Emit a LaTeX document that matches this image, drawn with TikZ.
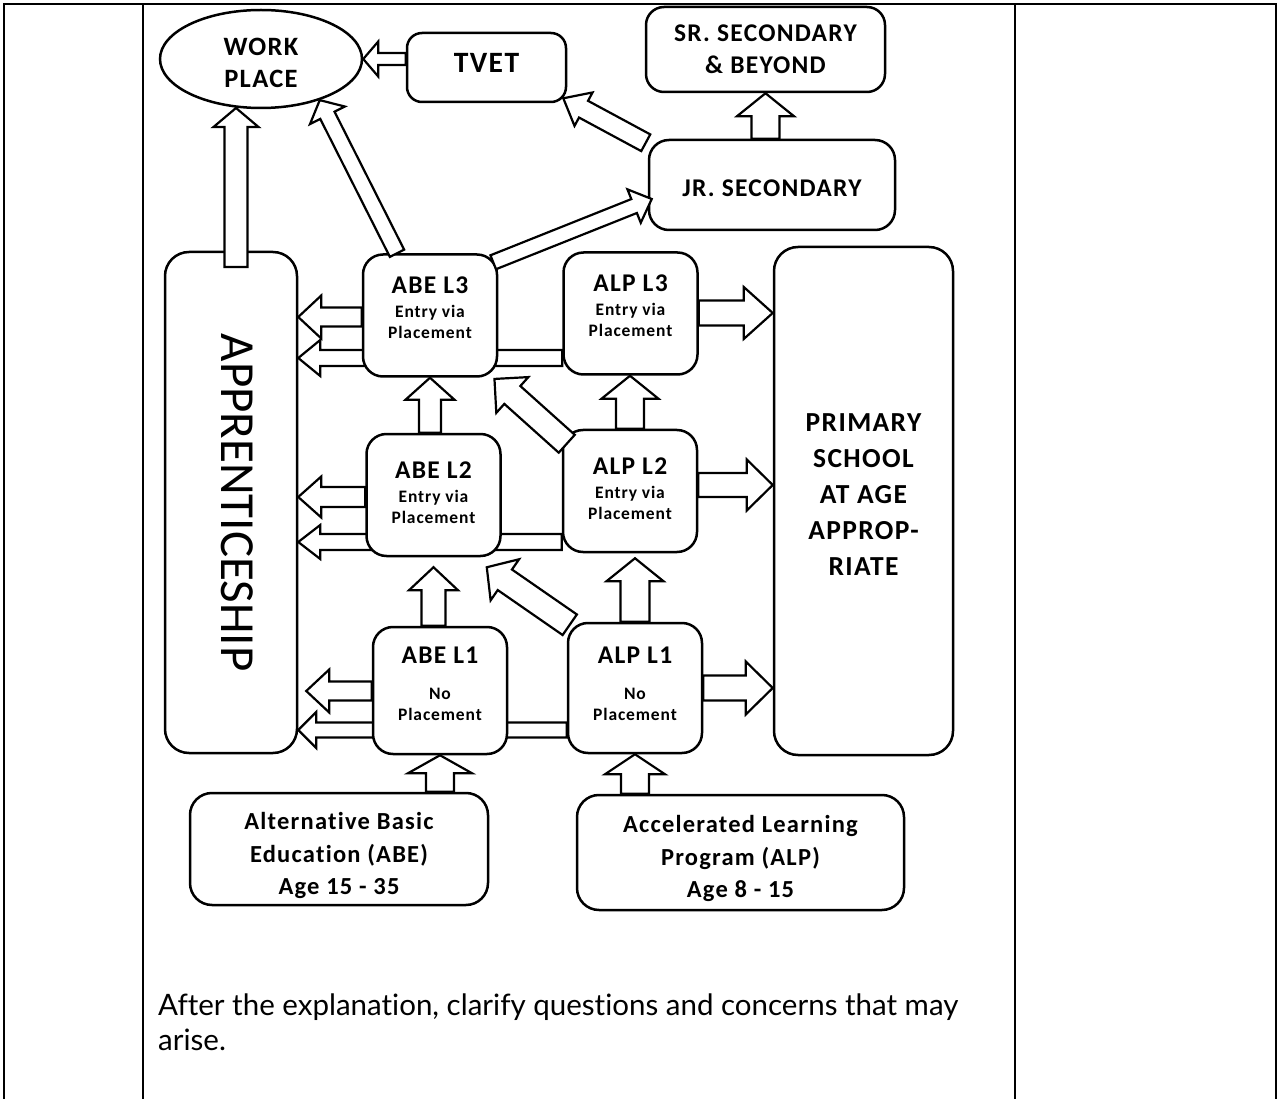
\documentclass[tikz,border=0pt]{standalone}
\usepackage{fontspec}
\setmainfont{Carlito}
\newfontfamily\boxfont{Carlito}[LetterSpace=5, Ligatures=NoCommon]
\newfontfamily\notefont{Lato}[Ligatures=NoCommon]
\usetikzlibrary{calc,positioning,backgrounds,shapes.geometric}

% block arrow from #2 to #3: half shaft #4, half head #5, head length #6
\newcommand{\blockarrow}[6][]{%
  \path let \p1=#2, \p2=#3 in
    \pgfextra{\pgfmathsetmacro\tmpang{atan2(\y2-\y1,\x2-\x1)}%
              \pgfmathsetmacro\tmplen{veclen(\x2-\x1,\y2-\y1)}%
              \global\let\barang\tmpang\global\let\barlen\tmplen};
  \draw[blockarr,#1,shift={#2},rotate=\barang]
    (0pt,#4pt) -- ({\barlen pt-#6pt},#4pt) -- ({\barlen pt-#6pt},#5pt)
    -- (\barlen pt,0pt) -- ({\barlen pt-#6pt},-#5pt) -- ({\barlen pt-#6pt},-#4pt)
    -- (0pt,-#4pt) -- cycle;
}

\begin{document}
\begin{tikzpicture}[x=1pt, y=-1pt,
  tableline/.style={line width=2pt},
  bigbox/.style={draw, line width=2.5pt, rounded corners=24pt, fill=white, inner sep=0pt},
  lvlbox/.style={bigbox, rounded corners=20pt, minimum width=134pt, minimum height=122pt},
  headtxt/.style={font=\boxfont\bfseries\fontsize{25.5}{32}\selectfont, align=center, inner sep=0pt},
  lvltxt/.style={font=\boxfont\bfseries\fontsize{17.5}{21}\selectfont, align=center, inner sep=0pt},
  srctxt/.style={font=\boxfont\bfseries\fontsize{24.5}{32.5}\selectfont, align=center, inner sep=0pt},
  blockarr/.style={draw, line width=2.2pt, fill=white, line join=miter}
]
\useasboundingbox (0,0) rectangle (1278,1099);

%--- Table lines ---
\draw[tableline] (4,1099) -- (4,4) -- (1276,4) -- (1276,1099);
\draw[tableline] (143,4) -- (143,1099);
\draw[tableline] (1015,4) -- (1015,1099);

%--- Top row ---
\node[ellipse, draw, line width=2.5pt, minimum width=202pt, minimum height=98pt, inner sep=0pt]
  (work) at (261,59) {};
\node[headtxt, font=\boxfont\bfseries\fontsize{26.5}{32}\selectfont] (worktxt)
  at ([yshift=-4pt]work.center) {WORK\\PLACE};
\node[bigbox, rounded corners=15pt, minimum width=159pt, minimum height=69pt] (tvet) at (486.5,67.5) {};
\node[headtxt, font=\boxfont\bfseries\fontsize{29.5}{29.5}\selectfont] (tvettxt)
  at ([yshift=5pt]tvet.center) {TVET};
\node[bigbox, rounded corners=18pt, minimum width=239pt, minimum height=85pt, headtxt] (sr)
  at (765.5,49.5) {SR. SECONDARY\\\& BEYOND};
\node[bigbox, rounded corners=20pt, minimum width=246pt, minimum height=90pt] (jr) at (772,185) {};
\node[headtxt] (jrtxt) at ([yshift=-3pt]jr.center) {JR. SECONDARY};

%--- Apprenticeship and primary school ---
\node[bigbox, minimum width=132pt, minimum height=501pt] (appr) at (231,502.5) {};
\node[rotate=-90, inner sep=0pt, font=\fontsize{49}{49}\selectfont] (apprtxt)
  at ([xshift=6pt]appr.center) {APPRENTICESHIP};
\node[bigbox, minimum width=179pt, minimum height=508pt] (prim) at (863.5,501) {};
\node[headtxt, font=\boxfont\bfseries\fontsize{27.5}{36}\selectfont] (primtxt)
  at ([yshift=6pt]prim.center) {PRIMARY\\SCHOOL\\AT AGE\\APPROP-\\RIATE};

%--- Level boxes ---
\node[lvlbox] (abe3) at (430,315.5) {};
\node[lvlbox] (alp3) at (630.5,313.5) {};
\node[lvlbox] (abe2) at (433.5,495) {};
\node[lvlbox] (alp2) at (630,491) {};
\node[lvlbox, minimum height=127pt] (abe1) at (440,690.5) {};
\node[lvlbox, minimum height=130pt] (alp1) at (635,688) {};

\node[lvltxt] (abe3txt) at ([yshift=7.5pt]abe3.center)
  {{\fontsize{25.5}{25.5}\selectfont ABE L3}\\[3pt]Entry via\\Placement};
\node[lvltxt] (alp3txt) at ([yshift=7.5pt]alp3.center)
  {{\fontsize{25.5}{25.5}\selectfont ALP L3}\\[3pt]Entry via\\Placement};
\node[lvltxt] (abe2txt) at ([yshift=2.5pt]abe2.center)
  {{\fontsize{25.5}{25.5}\selectfont ABE L2}\\[3pt]Entry via\\Placement};
\node[lvltxt] (alp2txt) at ([yshift=2pt]alp2.center)
  {{\fontsize{25.5}{25.5}\selectfont ALP L2}\\[3pt]Entry via\\Placement};
\node[lvltxt] (abe1txt) at ([yshift=6.5pt]abe1.center)
  {{\fontsize{25.5}{25.5}\selectfont ABE L1}\\[15pt]No\\Placement};
\node[lvltxt] (alp1txt) at ([yshift=4pt]alp1.center)
  {{\fontsize{25.5}{25.5}\selectfont ALP L1}\\[15pt]No\\Placement};

%--- Entry programmes ---
\node[bigbox, rounded corners=22pt, minimum width=298pt, minimum height=112pt] (abesrc) at (339,849) {};
\node[srctxt] (abesrctxt) at ([yshift=-6.5pt]abesrc.center)
  {Alternative Basic\\Education (ABE)\\Age 15 - 35};
\node[bigbox, rounded corners=22pt, minimum width=327pt, minimum height=115pt] (alpsrc) at (740.5,852.5) {};
\node[srctxt] (alpsrctxt) at ([yshift=-6pt]alpsrc.center)
  {Accelerated Learning\\Program (ALP)\\Age 8 - 15};

%--- Note below the chart ---
\node[anchor=north west, inner sep=0pt, align=left,
      font=\notefont\fontsize{29.5}{35}\selectfont] (note) at (158,994)
  {After the explanation, clarify questions and concerns that may\\arise.};

%--- Arrows behind the ABE boxes ---
\begin{pgfonlayer}{background}
\blockarrow{(alp3.west |- 0,358)}{(appr.east |- 0,358)}{8}{18}{22}
\blockarrow{(alp2.west |- 0,542)}{(appr.east |- 0,542)}{8}{17}{22}
\blockarrow{(alp1.west |- 0,730)}{(appr.east |- 0,730)}{7.5}{18}{18}
\end{pgfonlayer}

%--- Arrows to the top row ---
\blockarrow{(tvet.west |- work.east)}{(work.east)}{6}{17.5}{15}
\blockarrow{(236,267)}{(236,108)}{11.5}{22.5}{19}
\blockarrow{([xshift=-33pt]abe3.north)}{(work.-35)}{8}{19.5}{17}
\blockarrow{([shift={(-2,4)}]jr.north west)}{([shift={(-4,-5)}]tvet.south east)}{9.5}{19}{23}
\blockarrow{([shift={(-5,9)}]abe3.north east)}{([shift={(4,14)}]jr.west)}{7.5}{18}{19}
\blockarrow{(sr.south |- jr.north)}{(sr.south)}{14}{28.5}{23}

%--- ABE to apprenticeship ---
\blockarrow{(abe3.west |- 0,317)}{(appr.east |- 0,317)}{9.5}{21.5}{23}
\blockarrow{(abe2.west |- 0,497)}{(appr.east |- 0,497)}{10}{20.5}{23}
\blockarrow{(abe1.west |- 0,691)}{([xshift=8pt]appr.east |- 0,691)}{9.5}{21.5}{23}

%--- ALP to primary school ---
\blockarrow{(alp3.east |- 0,313)}{(prim.west |- 0,313)}{12.5}{26}{29}
\blockarrow{(alp2.east |- 0,485)}{(prim.west |- 0,485)}{12}{25.5}{26}
\blockarrow{(alp1.east |- 0,688)}{(prim.west |- 0,688)}{12.5}{26.5}{27}

%--- Level to level ---
\blockarrow{(abe3.south |- abe2.north)}{(abe3.south)}{11}{24.5}{22}
\blockarrow{(alp2.north)}{(alp2.north |- alp3.south)}{14}{28.5}{23}
\blockarrow{(abe2.south |- abe1.north)}{([yshift=-10pt]abe2.south)}{12}{24.5}{23}
\blockarrow{(alp1.north)}{([yshift=-5pt]alp1.north |- alp2.south)}{14.5}{28.5}{23}
\blockarrow{([shift={(5,15)}]alp2.north west)}{([shift={(-4,1)}]abe3.south east)}{12}{24}{24}
\blockarrow{([shift={(3,3)}]alp1.north west)}{([shift={(-15,10)}]abe2.south east)}{12.5}{25}{22}

%--- Programmes to first level ---
\blockarrow{(abe1.south |- abesrc.north)}{(abe1.south)}{14}{32}{18}
\blockarrow{(alp1.south |- alpsrc.north)}{(alp1.south)}{14}{30}{20}

\end{tikzpicture}
\end{document}
